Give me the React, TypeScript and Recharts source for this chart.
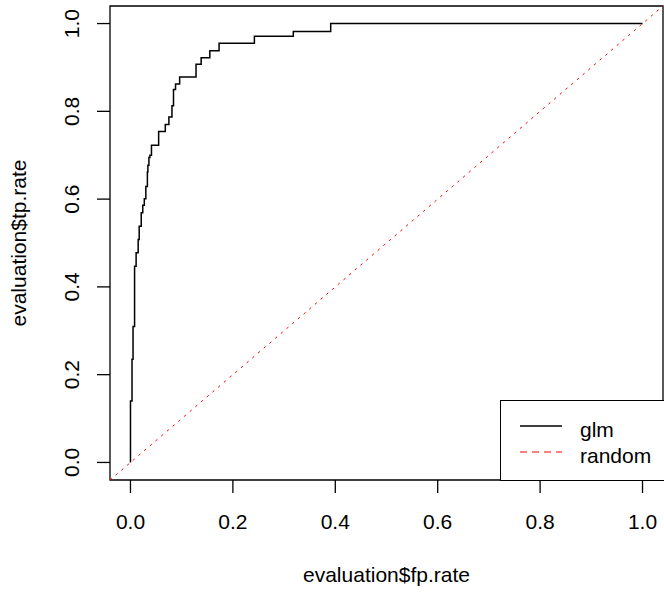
import React from "react";
import { Label, Line, LineChart, ReferenceArea, ReferenceLine, XAxis, YAxis } from "recharts";

// ROC curve vertices (top of each vertical step)
const fpr = [
  0, 0, 0.003, 0.005, 0.008, 0.011, 0.015, 0.017, 0.021, 0.024, 0.027, 0.03, 0.033, 0.034, 0.036,
  0.038, 0.041, 0.055, 0.068, 0.075, 0.081, 0.084, 0.088, 0.096, 0.128, 0.138, 0.155, 0.173, 0.242,
  0.318, 0.391, 1.0,
];
const tpr = [
  0, 0.14, 0.235, 0.31, 0.447, 0.478, 0.508, 0.538, 0.569, 0.586, 0.601, 0.629, 0.662, 0.677, 0.695,
  0.7, 0.723, 0.754, 0.77, 0.787, 0.813, 0.85, 0.862, 0.878, 0.907, 0.922, 0.938, 0.955, 0.971, 0.982,
  1.0, 1.0,
];
const ticks = [0, 0.2, 0.4, 0.6, 0.8, 1.0];
const seriesNames = ["glm", "random"];
const axisMin = -0.04;
const axisMax = 1.04;

const rocData = fpr.map((x, i) => ({ fpr: x, tpr: tpr[i] }));

const FONT = "'Liberation Sans', Arial, sans-serif";

function XTick({ x, y, payload }: any) {
  return (
    <text x={x} y={y + 36} textAnchor="middle" fontFamily={FONT} fontSize={21} fill="#000">
      {payload.value.toFixed(1)}
    </text>
  );
}

function YTick({ x, y, payload }: any) {
  return (
    <text
      transform={`translate(${x - 18},${y}) rotate(-90)`}
      textAnchor="middle"
      fontFamily={FONT}
      fontSize={21}
      fill="#000"
    >
      {payload.value.toFixed(1)}
    </text>
  );
}

export default function App() {
  return (
    <div
      style={{
        position: "absolute",
        left: 0,
        top: 0,
        width: 664,
        height: 594,
        overflow: "hidden",
        background: "#fff",
      }}
    >
      <LineChart width={664} height={594} data={rocData} margin={{ top: 6, right: 1, bottom: 0, left: 0 }}>
        <XAxis
          type="number"
          dataKey="fpr"
          domain={[axisMin, axisMax]}
          ticks={ticks}
          height={114}
          axisLine={false}
          tickSize={13}
          tickMargin={0}
          tickLine={{ stroke: "#000", strokeWidth: 1.3 }}
          tick={<XTick />}
        >
          <Label
            content={({ viewBox }: any) => (
              <text
                x={viewBox.x + viewBox.width / 2}
                y={viewBox.y + viewBox.height - 12}
                textAnchor="middle"
                fontFamily={FONT}
                fontSize={21}
                fill="#000"
              >
                evaluation$fp.rate
              </text>
            )}
          />
        </XAxis>
        <YAxis
          type="number"
          domain={[axisMin, axisMax]}
          ticks={ticks}
          width={110}
          axisLine={false}
          tickSize={13}
          tickMargin={0}
          tickLine={{ stroke: "#000", strokeWidth: 1.3 }}
          tick={<YTick />}
        >
          <Label
            content={({ viewBox }: any) => (
              <text
                transform={`translate(${viewBox.x + 25.5},${viewBox.y + viewBox.height / 2}) rotate(-90)`}
                textAnchor="middle"
                fontFamily={FONT}
                fontSize={21}
                fill="#000"
              >
                evaluation$tp.rate
              </text>
            )}
          />
        </YAxis>
        <ReferenceArea
          x1={axisMin}
          x2={axisMax}
          y1={axisMin}
          y2={axisMax}
          fill="none"
          fillOpacity={0}
          stroke="#000"
          strokeWidth={1.3}
          ifOverflow="visible"
        />
        <Line
          type="stepAfter"
          dataKey="tpr"
          name={seriesNames[0]}
          stroke="#000"
          strokeWidth={1.5}
          dot={false}
          isAnimationActive={false}
        />
        <ReferenceLine
          segment={[
            { x: axisMin, y: axisMin },
            { x: axisMax, y: axisMax },
          ]}
          stroke="#ff0000"
          strokeWidth={1}
          strokeDasharray="2.5 5"
          ifOverflow="visible"
        />
      </LineChart>
      <div
        style={{
          position: "absolute",
          left: 500,
          top: 400,
          width: 180,
          height: 81,
          boxSizing: "border-box",
          border: "1.3px solid #000",
          background: "#fff",
        }}
      >
        <svg width={180} height={80} style={{ position: "absolute", left: -1.3, top: -1.3 }}>
          <line x1={20} y1={26} x2={62} y2={26} stroke="#000" strokeWidth={1.5} />
          <text x={80} y={37} fontFamily={FONT} fontSize={21} fill="#000">
            {seriesNames[0]}
          </text>
          <line x1={20} y1={52} x2={62} y2={52} stroke="#ff0000" strokeWidth={1.2} strokeDasharray="7 5" />
          <text x={80} y={63} fontFamily={FONT} fontSize={21} fill="#000">
            {seriesNames[1]}
          </text>
        </svg>
      </div>
    </div>
  );
}
